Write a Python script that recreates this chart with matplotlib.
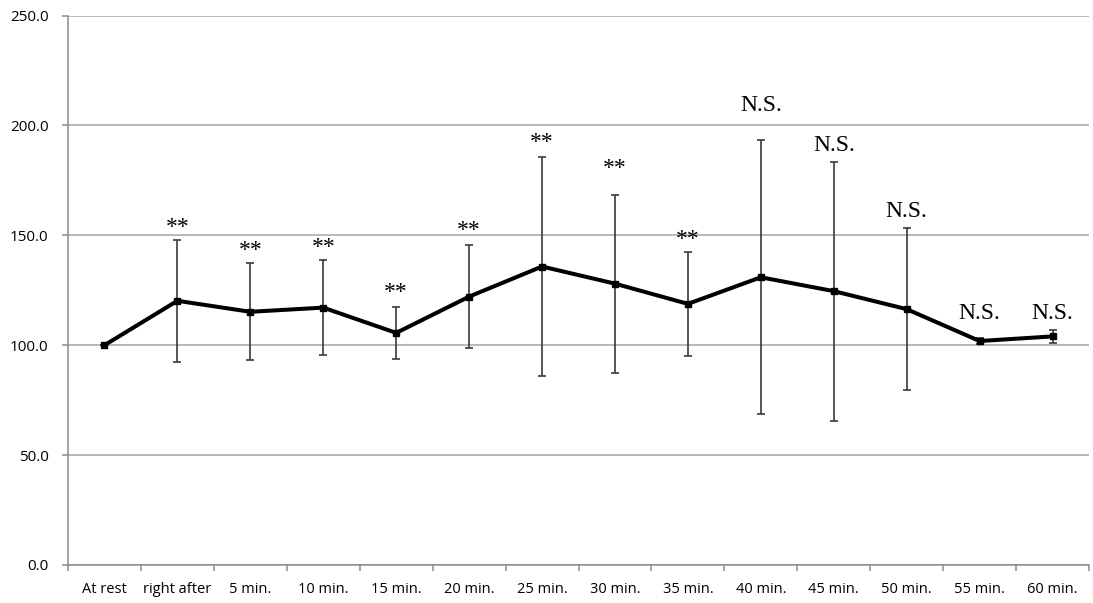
import matplotlib

matplotlib.use("Agg")
import matplotlib.pyplot as plt
import numpy as np

categories = ["At rest", "right after", "5 min.", "10 min.", "15 min.", "20 min.", "25 min.",
              "30 min.", "35 min.", "40 min.", "45 min.", "50 min.", "55 min.", "60 min."]
means = [100.0, 120.2, 115.2, 117.1, 105.6, 122.1, 135.8, 128.0, 118.8, 130.9, 124.6, 116.4, 101.9, 104.0]
errors = [0.0, 27.8, 22.0, 21.6, 11.8, 23.4, 49.9, 40.5, 23.5, 62.4, 58.9, 37.0, 1.5, 2.8]
marks = ["", "**", "**", "**", "**", "**", "**", "**", "**", "N.S.", "N.S.", "N.S.", "N.S.", "N.S."]
y_ticks = [0, 50, 100, 150, 200, 250]

# extra lift (px) above the error cap for a few labels
label_lift = [0, 0, 0, 0, 2, 2, 2, 14, 0, 18, 0, 0, 8, 0]

W, H, DPI = 1093, 603, 100
fig = plt.figure(figsize=(W / DPI, H / DPI), dpi=DPI)
ax = fig.add_axes([68 / W, 1 - 565 / H, (1089 - 68) / W, (565 - 15.5) / H])

x = np.arange(len(categories))
grey = "#8c8c8c"

ax.set_xlim(-0.5, len(categories) - 0.5)
ax.set_ylim(0, 250)
ax.set_yticks(y_ticks)
ax.set_yticklabels([f"{v:.1f}" for v in y_ticks])
ax.yaxis.grid(True, color="#a6a6a6", linewidth=1.1)
ax.set_axisbelow(True)

ax.errorbar(x, means, yerr=errors, fmt="none", ecolor="#3a3a3a", elinewidth=1.2,
            capsize=3, capthick=1.2, zorder=2)
ax.plot(x, means, color="black", linewidth=2.9, marker="s", markersize=4.5, zorder=3)

for i, (m, e, lab) in enumerate(zip(means, errors, marks)):
    if not lab:
        continue
    off = 2 + label_lift[i] if lab == "**" else 6 + label_lift[i]
    ax.annotate(lab, (x[i], m + e), xytext=(0, off * 72 / DPI), textcoords="offset points",
                ha="center", va="bottom", fontsize=17, family="Liberation Serif", color="black")

ax.set_xticks(x)
ax.set_xticklabels(categories)
ax.set_xticks(np.arange(-0.5, len(categories)), minor=True)
ax.tick_params(axis="x", which="major", length=0, pad=12, labelsize=10.5, labelcolor="black")
ax.tick_params(axis="x", which="minor", length=4, color=grey, width=1.1, direction="out")
ax.tick_params(axis="y", length=4, color=grey, width=1.1, pad=10, labelsize=11)
for lab in ax.get_xticklabels() + ax.get_yticklabels():
    lab.set_family("Open Sans")

for side in ("top", "right"):
    ax.spines[side].set_visible(False)
for side in ("left", "bottom"):
    ax.spines[side].set_color(grey)
    ax.spines[side].set_linewidth(1.1)

fig.savefig("out.png", dpi=DPI, facecolor="white")
